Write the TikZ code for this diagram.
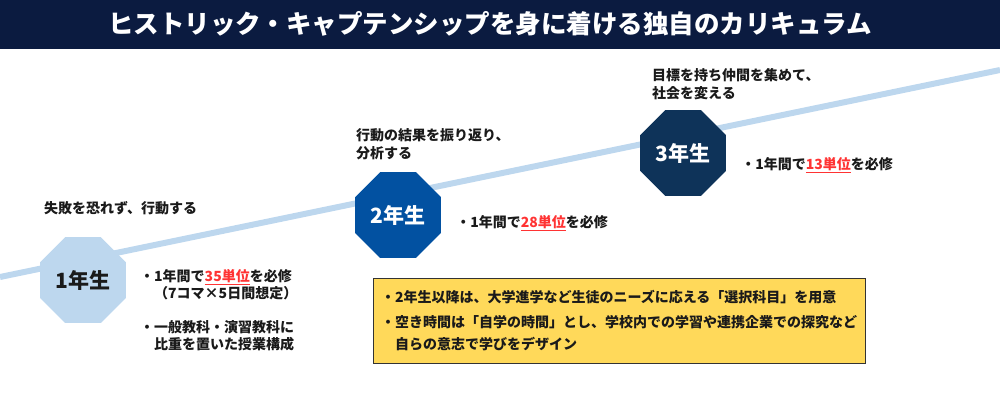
\documentclass[tikz,border=0pt]{standalone}
\usepackage{fontspec}
\usepackage{xcolor}
\setmainfont{Noto Sans CJK JP}
\usetikzlibrary{positioning,shapes.geometric}
\definecolor{titlenavy}{HTML}{0B1B40}
\definecolor{yearlight}{HTML}{BDD7EE}
\definecolor{yearmid}{HTML}{0251A1}
\definecolor{yeardark}{HTML}{0E3359}
\definecolor{trackblue}{HTML}{BDD7EE}
\definecolor{unitred}{HTML}{FF3333}
\definecolor{noteyellow}{HTML}{FFD95A}
\definecolor{inkgray}{HTML}{1A1A1A}
\newcommand{\unitcount}[1]{{\color{unitred}\underline{#1単位}}}
\tikzset{
  year/.style={
    regular polygon,
    regular polygon sides=8,
    minimum size=93pt,
    inner sep=0pt,
    font=\fontsize{21}{21}\selectfont\bfseries
  },
  goal/.style={
    anchor=west,
    align=left,
    inner sep=0pt,
    text=inkgray,
    font=\fontsize{14}{18}\selectfont\bfseries
  },
  plan/.style={
    anchor=west,
    align=left,
    inner sep=0pt,
    text=inkgray,
    font=\fontsize{14}{17}\selectfont\bfseries
  },
  selectbox/.style={
    rectangle,
    draw=black!80,
    fill=noteyellow,
    line width=1pt,
    align=left,
    text width=476pt,
    inner xsep=8pt,
    minimum height=85pt,
    text=inkgray,
    font=\fontsize{14}{22}\selectfont\bfseries
  },
  track/.style={line width=6pt, draw=trackblue}
}

\begin{document}
\begin{tikzpicture}[x=1pt, y=-1pt]
  \useasboundingbox (0,0) rectangle (1000,400);
  \fill[titlenavy] (0,0) rectangle (1000,49);
  \node[text=white, font=\fontsize{25.5}{25.5}\selectfont\bfseries] (title) at (490,24)
    {ヒストリック・キャプテンシップを身に着ける独自のカリキュラム};

  \coordinate (trackstart) at (0,277);
  \coordinate (trackend) at (1000,70);
  \draw[track] (trackstart) -- (trackend);

  \node[year, fill=yearlight, text=inkgray] (yr1) at (83,280) {1年生};
  \node[year, fill=yearmid, text=white] (yr2) at (398,215) {2年生};
  \node[year, fill=yeardark, text=white] (yr3) at (683,153) {3年生};

  \node[goal] (goal1) at (44,208) {失敗を恐れず、行動する};
  \node[goal] (goal2) at (356,144) {行動の結果を振り返り、\\分析する};
  \node[goal] (goal3) at (652,84) {目標を持ち仲間を集めて、\\社会を変える};

  \node[plan] (plan1a) at (140,285) {・1年間で\unitcount{35}を必修\\\hspace{1em}（7コマ×5日間想定）};
  \node[plan, below=20pt of plan1a.south west, anchor=north west] (plan1b)
    {・一般教科・演習教科に\\\hspace{1em}比重を置いた授業構成};
  \node[plan, right=15pt of yr2, yshift=-8pt] (plan2) {・1年間で\unitcount{28}を必修};
  \node[plan, right=15pt of yr3, yshift=-12pt] (plan3) {・1年間で\unitcount{13}を必修};

  \node[selectbox] (elective) at (619,320.5)
    {・2年生以降は、大学進学など生徒のニーズに応える「選択科目」を用意\\[3pt]
     ・空き時間は「自学の時間」とし、学校内での学習や連携企業での探究など\\
     \hspace{1em}自らの意志で学びをデザイン};
\end{tikzpicture}
\end{document}
